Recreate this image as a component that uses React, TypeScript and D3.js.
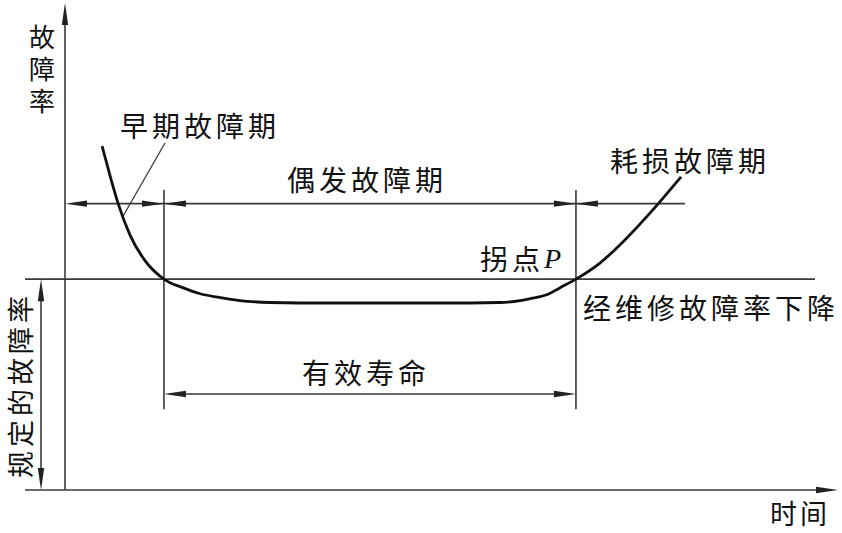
import React from "react";
import * as d3 from "d3";

// bathtub curve (time 0-100, failure rate 0-100)
const curveTime = [4.8, 5.8, 6.9, 8.4, 10.3, 12.8, 15.3, 17.5, 19.7, 22.6, 26.5, 30.4, 52.4, 56.3, 58.9, 60.5, 62.5, 64.0, 66.1, 69.2, 72.4, 75.7, 79.7];
const curveRate = [70.6, 64.7, 58.7, 52.4, 47.2, 43.3, 41.5, 40.3, 39.6, 38.9, 38.5, 38.4, 38.4, 38.5, 38.9, 39.4, 40.2, 41.5, 43.3, 46.6, 51.3, 56.9, 64.3];

// period boundaries on time axis and the specified failure rate
const periodBounds = [12.8, 66.1];
const specifiedRate = 43.3;

const yLabel = "故障率";
const xLabel = "时间";
const periodLabels = ["早期故障期", "偶发故障期", "耗损故障期"];
const lifeLabel = "有效寿命";
const pointLabel = "拐点";
const specLabel = "规定的故障率";
const repairLabel = "经维修故障率下降";

const W = 842;
const H = 533;
const FONT = "'Noto Sans CJK SC', 'Noto Sans', sans-serif";
const LINE = "#3a3a3a";

const x = d3.scaleLinear().domain([0, 100]).range([65, 838]);
const y = d3.scaleLinear().domain([0, 100]).range([490, 3]);

// filled arrowhead, tip at (tx, ty), dir = direction it points
function arrow(tx: number, ty: number, dir: "l" | "r" | "u" | "d") {
  const L = 22, w = 3.2;
  let p;
  if (dir === "l") p = [[tx, ty], [tx + L, ty - w], [tx + L, ty + w]];
  else if (dir === "r") p = [[tx, ty], [tx - L, ty - w], [tx - L, ty + w]];
  else if (dir === "u") p = [[tx, ty], [tx - w, ty + L], [tx + w, ty + L]];
  else p = [[tx, ty], [tx - w, ty - L], [tx + w, ty - L]];
  return <path d={"M" + p.map(q => q.join(",")).join("L") + "Z"} fill="#222" />;
}

export default function App() {
  const line = d3.line<number>()
    .x((d, i) => x(curveTime[i]))
    .y(d => y(d))
    .curve(d3.curveMonotoneX);

  const x0 = x(0);
  const xA = x(periodBounds[0]);
  const xB = x(periodBounds[1]);
  const yBase = y(0);
  const ySpec = y(specifiedRate);
  const yDim = y(58.8);
  const yLife = y(19.7);
  const yVTop = y(61.6);
  const yVBot = y(16.6);

  const txt = { fontFamily: FONT, fontSize: 28, letterSpacing: 4, fill: "#111" } as const;

  return (
    <svg width={W} height={H} style={{ position: "absolute", left: 0, top: 0, background: "#fff" }}>
      <g stroke={LINE} strokeWidth={1.6} fill="none">
        {/* axes */}
        <line x1={x0} y1={yBase} x2={x0} y2={y(100) + 8} />
        <line x1={25} y1={yBase} x2={x(100) - 8} y2={yBase} />
        {/* specified failure rate */}
        <line x1={25} y1={ySpec} x2={815} y2={ySpec} />
        <line x1={41} y1={ySpec + 10} x2={41} y2={yBase - 10} />
        {/* period boundaries */}
        <line x1={xA} y1={yVTop} x2={xA} y2={yVBot} />
        <line x1={xB} y1={yVTop} x2={xB} y2={yVBot} />
        {/* period dimension line */}
        <line x1={x0 + 10} y1={yDim} x2={685} y2={yDim} />
        {/* effective life */}
        <line x1={xA + 10} y1={yLife} x2={xB - 10} y2={yLife} />
        {/* leader for early failure label */}
        <line x1={165} y1={143} x2={122} y2={218} strokeWidth={1.3} />
      </g>

      {arrow(x0, y(100), "u")}
      {arrow(x(100), yBase, "r")}
      {arrow(41, ySpec, "u")}
      {arrow(41, yBase, "d")}
      {arrow(x0, yDim, "l")}
      {arrow(xA, yDim, "r")}
      {arrow(xA, yDim, "l")}
      {arrow(xB, yDim, "r")}
      {arrow(xB, yDim, "l")}
      {arrow(xA, yLife, "l")}
      {arrow(xB, yLife, "r")}

      <path d={line(curveRate) || ""} fill="none" stroke="#111" strokeWidth={2.8} />

      <text x={42} y={24} style={{ writingMode: "vertical-rl" }} {...txt} fontSize={26} letterSpacing={6}>{yLabel}</text>
      <text x={120} y={125} dominantBaseline="central" {...txt}>{periodLabels[0]}</text>
      <text x={287} y={179} dominantBaseline="central" {...txt}>{periodLabels[1]}</text>
      <text x={610} y={160} dominantBaseline="central" {...txt}>{periodLabels[2]}</text>
      <text x={480} y={258} dominantBaseline="central" {...txt}>
        {pointLabel}
        <tspan fontFamily="'Liberation Serif', serif" fontStyle="italic" letterSpacing={0}>P</tspan>
      </text>
      <text x={583} y={307} dominantBaseline="central" {...txt}>{repairLabel}</text>
      <text x={302} y={372} dominantBaseline="central" {...txt}>{lifeLabel}</text>
      <text x={770} y={512} dominantBaseline="central" {...txt} fontSize={27} letterSpacing={3}>{xLabel}</text>
      <text transform="translate(19,385) rotate(-90)" textAnchor="middle" dominantBaseline="central" {...txt} fontSize={27}>{specLabel}</text>
    </svg>
  );
}
